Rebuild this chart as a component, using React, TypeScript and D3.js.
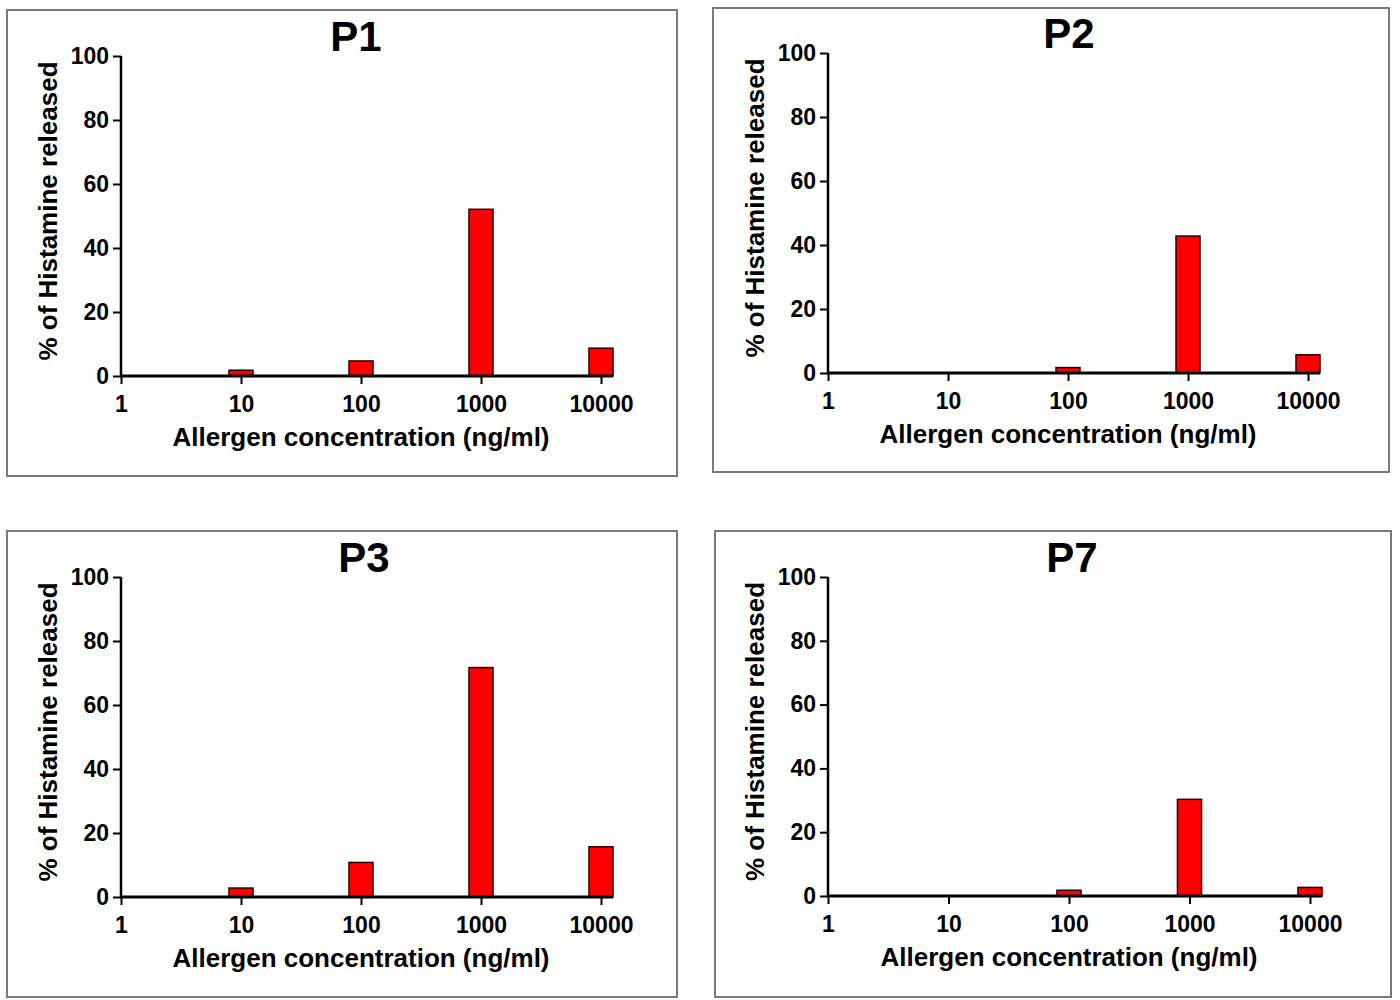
import * as d3 from "d3";
import React, { useEffect, useRef } from "react";

// allergen concentrations (ng/ml) and % histamine released per patient
const concentrations = [10, 100, 1000, 10000];
const xTicks = [1, 10, 100, 1000, 10000];
const yTicks = [0, 20, 40, 60, 80, 100];
const patients = ["P1", "P2", "P3", "P7"];
const p1Values = [1.8, 4.7, 52.1, 8.7];
const p2Values = [0, 1.7, 42.8, 5.7];
const p3Values = [2.8, 10.8, 71.7, 15.7];
const p7Values = [0, 1.8, 30.3, 2.7];
const seriesValues = [p1Values, p2Values, p3Values, p7Values];

const xLabel = "Allergen concentration (ng/ml)";
const yLabel = "% of Histamine released";

// panel geometry in page pixels
const layout = [
  { box: [7, 10, 670, 466], x: [121, 601], y: [376, 56], titleX: 356 },
  { box: [713, 8, 676, 464], x: [828, 1308], y: [373, 53], titleX: 1069 },
  { box: [7, 531, 670, 466], x: [121, 601], y: [897, 577], titleX: 364 },
  { box: [715, 531, 676, 466], x: [828, 1310], y: [896, 577], titleX: 1072 },
];

const WIDTH = 1400;
const HEIGHT = 1000;
const FONT = "'Liberation Sans', Arial, Helvetica, sans-serif";
const halfBar = Math.pow(10, 0.1); // bar spans 0.2 decade

export default function App() {
  const svgRef = useRef<SVGSVGElement>(null);

  useEffect(() => {
    if (!svgRef.current) return;
    const svg = d3.select(svgRef.current);
    svg.selectAll("*").remove();

    svg
      .append("rect")
      .attr("width", WIDTH)
      .attr("height", HEIGHT)
      .attr("fill", "#fff");

    patients.forEach((name, i) => {
      const L = layout[i];
      const values = seriesValues[i];
      const g = svg.append("g");

      const xScale = d3.scaleLog().domain([1, 10000]).range(L.x);
      const yScale = d3.scaleLinear().domain([0, 100]).range(L.y);

      // panel frame
      g.append("rect")
        .attr("x", L.box[0])
        .attr("y", L.box[1])
        .attr("width", L.box[2])
        .attr("height", L.box[3])
        .attr("fill", "none")
        .attr("stroke", "#7a7a7a")
        .attr("stroke-width", 2);

      // bars
      g.append("g")
        .selectAll("rect")
        .data(concentrations.map((c, j) => ({ c, v: values[j] })).filter((d) => d.v > 0))
        .join("rect")
        .attr("x", (d) => xScale(d.c / halfBar))
        .attr("width", (d) => xScale(d.c * halfBar) - xScale(d.c / halfBar))
        .attr("y", (d) => yScale(d.v))
        .attr("height", (d) => yScale(0) - yScale(d.v))
        .attr("fill", "#ff0000")
        .attr("stroke", "#2a0000")
        .attr("stroke-width", 1.5);

      // y axis
      const yAxis = d3
        .axisLeft(yScale)
        .tickValues(yTicks)
        .tickSize(8)
        .tickPadding(4)
        .tickFormat(d3.format("d"));
      g.append("g")
        .attr("transform", `translate(${L.x[0]},0)`)
        .call(yAxis)
        .call((a) => a.select(".domain").attr("stroke-width", 2.5).attr("d", `M0,${L.y[0]}V${L.y[1]}`))
        .call((a) => a.selectAll(".tick line").attr("stroke-width", 2))
        .call((a) =>
          a
            .selectAll(".tick text")
            .attr("font-family", FONT)
            .attr("font-weight", "bold")
            .attr("font-size", 23)
            .attr("fill", "#000")
        );

      // x axis
      const xAxis = d3
        .axisBottom(xScale)
        .tickValues(xTicks)
        .tickSize(8)
        .tickPadding(12)
        .tickFormat(d3.format("d"));
      const xEnd = xScale(concentrations[concentrations.length - 1] * halfBar);
      g.append("g")
        .attr("transform", `translate(0,${L.y[0]})`)
        .call(xAxis)
        .call((a) => a.select(".domain").attr("stroke-width", 3).attr("d", `M${L.x[0] - 1},0H${xEnd}`))
        .call((a) => a.selectAll(".tick line").attr("stroke-width", 2))
        .call((a) =>
          a
            .selectAll(".tick text")
            .attr("font-family", FONT)
            .attr("font-weight", "bold")
            .attr("font-size", 23)
            .attr("fill", "#000")
        );

      // axis titles
      g.append("text")
        .attr("x", (L.x[0] + L.x[1]) / 2)
        .attr("y", L.y[0] + 70)
        .attr("text-anchor", "middle")
        .attr("font-family", FONT)
        .attr("font-weight", "bold")
        .attr("font-size", 26)
        .text(xLabel);

      g.append("text")
        .attr("transform", `translate(${L.x[0] - 64},${(L.y[0] + L.y[1]) / 2 - 5}) rotate(-90)`)
        .attr("text-anchor", "middle")
        .attr("font-family", FONT)
        .attr("font-weight", "bold")
        .attr("font-size", 26)
        .text(yLabel);

      // panel title
      g.append("text")
        .attr("x", L.titleX)
        .attr("y", L.y[1] - 5)
        .attr("text-anchor", "middle")
        .attr("font-family", FONT)
        .attr("font-weight", "bold")
        .attr("font-size", 42)
        .text(name);
    });
  }, []);

  return (
    <svg
      ref={svgRef}
      width={WIDTH}
      height={HEIGHT}
      viewBox={`0 0 ${WIDTH} ${HEIGHT}`}
      style={{ position: "absolute", left: 0, top: 0 }}
    />
  );
}
